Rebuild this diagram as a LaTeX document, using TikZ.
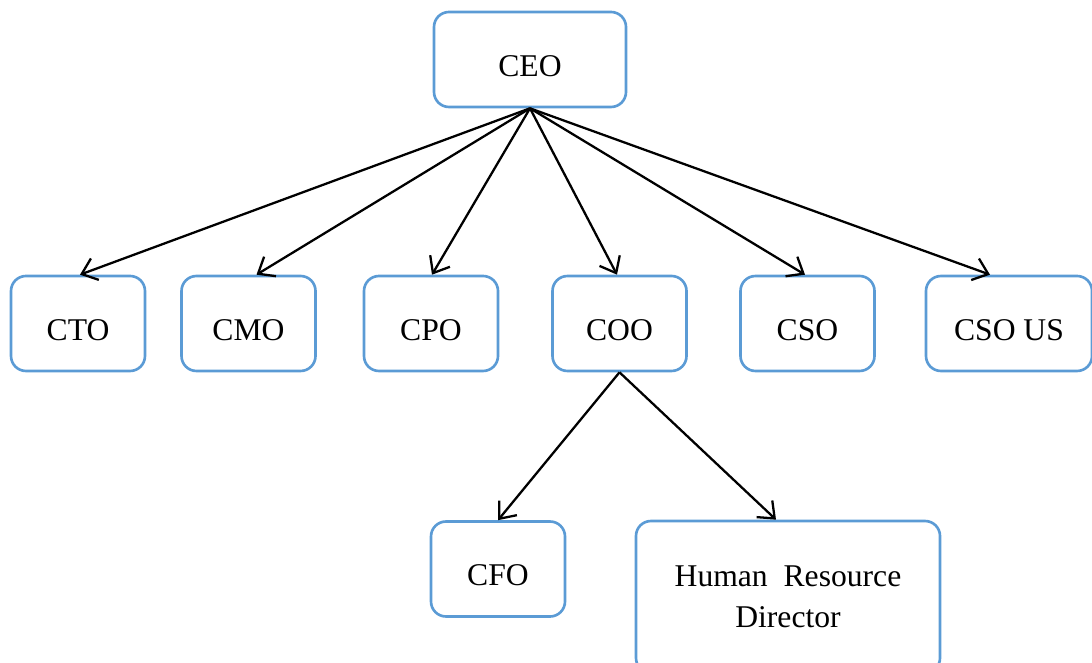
\documentclass[tikz,border=0pt]{standalone}
\usepackage{fontspec}
\setmainfont{Liberation Serif}
\usetikzlibrary{arrows.meta}
\definecolor{boxblue}{RGB}{91,155,213}

\begin{document}
\begin{tikzpicture}[
  box/.style={draw=boxblue, line width=1.5pt, rounded corners=0.3cm, minimum width=2.68cm, minimum height=1.9cm, font=\fontsize{18}{23}\selectfont, align=center},
  onebox/.style={box, text height=19pt, text depth=0pt},
  arr/.style={-{Straight Barb[length=8pt,width=13pt]}, line width=1.3pt}
]
\clip (0,0) rectangle (21.84,13.24);
%top box
\node[onebox, minimum width=3.84cm] (ceo) at (10.60,12.05) {CEO};
%second row
\foreach \name/\x/\txt in {cto/1.56/CTO, cmo/4.97/CMO, cpo/8.62/CPO, coo/12.39/COO, cso/16.15/CSO}{
   \node[onebox] (\name) at (\x,6.77) {\txt};
}
\node[onebox, minimum width=3.32cm] (csous) at (20.18,6.77) {CSO US};
%third row
\node[onebox] (cfo) at (9.96,1.86) {CFO};
\node[box, minimum width=6.08cm, minimum height=3.04cm] (hr) at (15.76,1.30) {Human\ \ Resource\\Director};
%arrows from ceo
\foreach \name/\dx in {cto/0.04, cmo/0.16, cpo/0.02, coo/-0.05, cso/-0.05}{
   \draw[arr] (ceo.south) -- ([xshift=\dx cm]\name.north);
}
\draw[arr] (ceo.south) -- ([xshift=-0.38cm]csous.north);
%arrows from coo
\draw[arr] (coo.south) -- (cfo.north);
\draw[arr] (coo.south) -- ([xshift=-0.24cm]hr.north);
\end{tikzpicture}
\end{document}
